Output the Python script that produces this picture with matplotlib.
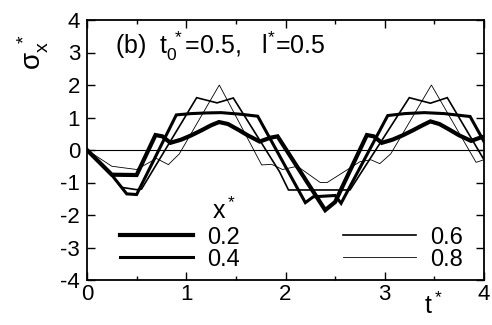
import matplotlib
matplotlib.use("Agg")
import matplotlib.pyplot as plt
from matplotlib.ticker import MultipleLocator

plt.rcParams["font.family"] = ["Liberation Sans", "DejaVu Sans"]
plt.rcParams["mathtext.fontset"] = "custom"
plt.rcParams["mathtext.rm"] = "Liberation Sans"
plt.rcParams["mathtext.it"] = "Liberation Sans"
plt.rcParams["axes.unicode_minus"] = False

# stress history sigma_x* vs t* (piecewise linear)
t_02 = [0, 0.25, 0.5, 0.69, 0.76, 0.84, 0.95, 1.05, 1.15, 1.25, 1.33, 1.42, 1.52,
        1.62, 1.74, 1.85, 1.92, 2.4, 2.5, 2.82, 2.89, 2.97, 3.08, 3.18, 3.28, 3.38,
        3.46, 3.55, 3.65, 3.75, 3.87, 3.98, 4.0]
s_02 = [0, -0.76, -0.77, 0.46, 0.42, 0.22, 0.32, 0.45, 0.6, 0.76, 0.86, 0.8, 0.63,
        0.45, 0.26, 0.38, 0.42, -1.85, -1.6, 0.46, 0.42, 0.22, 0.32, 0.45, 0.6, 0.76,
        0.88, 0.8, 0.63, 0.45, 0.28, 0.4, 0.38]

t_04 = [0, 0.25, 0.4, 0.5, 0.9, 1.05, 1.2, 1.35, 1.55, 1.72, 2.2, 2.28, 2.5, 2.56,
        3.03, 3.2, 3.4, 3.6, 3.86, 4.0]
s_04 = [0, -0.77, -1.35, -1.37, 1.08, 1.12, 1.14, 1.15, 1.1, 1.04, -1.62, -1.44,
        -1.4, -1.64, 1.06, 1.12, 1.15, 1.12, 1.03, 0.26]

t_06 = [0, 0.2, 0.35, 0.5, 0.55, 1.105, 1.31, 1.474, 1.94, 2.03, 2.65, 3.247, 3.46,
        3.63, 4.0]
s_06 = [0, -0.6, -1.15, -1.22, -1.2, 1.61, 1.45, 1.6, -0.67, -1.23, -1.23, 1.61,
        1.44, 1.61, -0.3]

t_08 = [0, 0.25, 0.5, 0.7, 0.82, 0.93, 1.333, 1.76, 1.86, 1.97, 2.12, 2.35, 2.42,
        2.75, 2.86, 2.95, 3.06, 3.47, 3.92, 4.0]
s_08 = [0, -0.5, -0.6, -0.26, -0.45, -0.12, 2.0, -0.46, -0.44, -0.6, -0.5, -1.0,
        -1.0, -0.36, -0.3, -0.42, -0.12, 2.0, -0.38, -0.3]

labels = ["0.2", "0.4", "0.6", "0.8"]
widths = [3.0, 2.2, 1.2, 0.6]

fig = plt.figure(figsize=(4.92, 3.25), dpi=100)
ax = fig.add_axes([87 / 492, 45 / 325, 397 / 492, 260 / 325])

ax.axhline(0, color="black", lw=0.8, zorder=1)
lines = []
for t, s, lw, lab in zip([t_02, t_04, t_06, t_08], [s_02, s_04, s_06, s_08], widths, labels):
    ln, = ax.plot(t, s, color="black", lw=lw, label=lab, solid_joinstyle="miter")
    lines.append(ln)

ax.set_xlim(0, 4)
ax.set_ylim(-4, 4)
ax.xaxis.set_major_locator(MultipleLocator(1))
ax.xaxis.set_minor_locator(MultipleLocator(0.5))
ax.yaxis.set_major_locator(MultipleLocator(1))
ax.tick_params(which="both", direction="in", top=True, right=True, labelsize=16)
ax.tick_params(which="major", length=5.5, width=1.0)
ax.tick_params(which="minor", length=3, width=1.0)
ax.tick_params(axis="y", pad=5)
ax.tick_params(axis="x", pad=3)
for sp in ax.spines.values():
    sp.set_linewidth(1.3)

ax.text(0.07, 0.9, r"(b)  $\mathregular{t_0^{\ *}}$=0.5,   $\mathregular{l^{*}}$=0.5",
        transform=ax.transAxes, fontsize=18, va="center", ha="left")
fig.text(33 / 492, 1 - 52 / 325, r"$\mathregular{\sigma_x^{\ *}}$", rotation=90,
         fontsize=20, ha="center", va="center")
fig.text(433 / 492, 1 - 306 / 325, r"$\mathregular{t^*}$", fontsize=18,
         ha="center", va="center")
ax.text(0.345, 0.265, r"$\mathregular{x^*}$", transform=ax.transAxes, fontsize=18,
        ha="center", va="center")

leg_kw = dict(loc="upper left", frameon=False, fontsize=17, handlelength=3.1,
              handletextpad=0.6, labelspacing=0.0, borderpad=0, borderaxespad=0)
leg1 = ax.legend(lines[:2], labels[:2], bbox_to_anchor=(0.083, 0.205), **leg_kw)
ax.add_artist(leg1)
ax.legend(lines[2:], labels[2:], bbox_to_anchor=(0.645, 0.205), **leg_kw)

fig.savefig("out.png", dpi=100)
